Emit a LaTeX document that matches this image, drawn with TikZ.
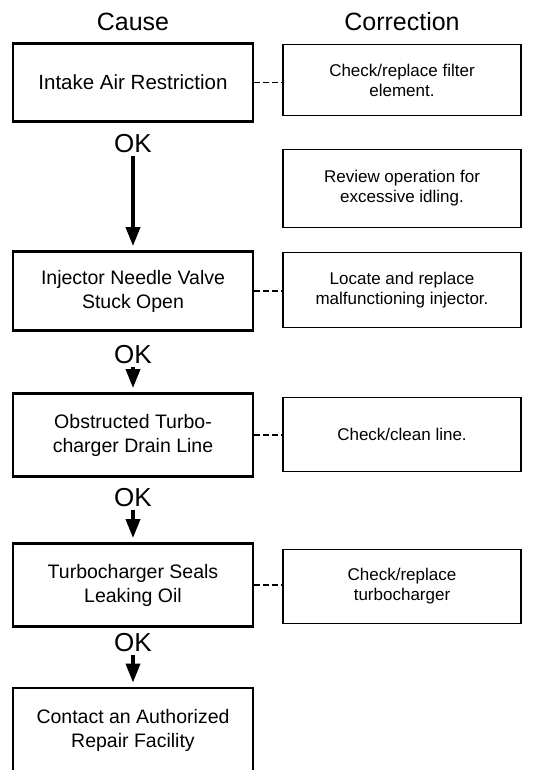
\documentclass[tikz,border=0pt]{standalone}
\usepackage{fontspec}
\setmainfont{Liberation Sans}
\usetikzlibrary{arrows.meta}
\begin{document}
\begin{tikzpicture}[x=1pt,y=-1pt,
  causebox/.style={draw, line width=2.8pt, minimum width=240pt, align=center, inner sep=0pt,
    font=\fontsize{19.5}{24}\selectfont},
  fixbox/.style={draw, line width=1.7pt, minimum width=237.5pt, align=center, inner sep=0pt,
    font=\fontsize{17}{20}\selectfont},
  headlabel/.style={font=\fontsize{25}{29}\selectfont, inner sep=0pt},
  oklabel/.style={font=\fontsize{26}{30}\selectfont, inner sep=0pt},
  flow/.style={-{Triangle[width=14pt,length=19pt]}, line width=3.6pt, shorten <=3pt, shorten >=4pt},
  link/.style={line width=1.8pt, dash pattern=on 6pt off 3pt}]
\useasboundingbox (0,0) rectangle (553,770);
\clip (0,0) rectangle (553,770);
% headings
\node[headlabel] (hc) at (133,22) {Cause};
\node[headlabel] (hr) at (402,22) {Correction};
% cause boxes
\node[causebox, minimum height=78pt, font=\fontsize{20.5}{24}\selectfont] (b1) at (133,82.5) {Intake Air Restriction};
\node[causebox, minimum height=79pt] (b2) at (133,291) {Injector Needle Valve\\Stuck Open};
\node[causebox, minimum height=83pt] (b3) at (133,435) {Obstructed Turbo-\\charger Drain Line};
\node[causebox, minimum height=83pt] (b4) at (133,585) {Turbocharger Seals\\Leaking Oil};
\node[causebox, minimum height=84pt] (b5) at (133,730) {Contact an Authorized\\Repair Facility};
% correction boxes
\node[fixbox, minimum height=71pt] (r1) at (402,80) {Check/replace filter\\element.};
\node[fixbox, minimum height=78pt] (r2) at (402,188.5) {Review operation for\\excessive idling.};
\node[fixbox, minimum height=75pt] (r3) at (402,290) {Locate and replace\\malfunctioning injector.};
\node[fixbox, minimum height=74pt] (r4) at (402,434.5) {Check/clean line.};
\node[fixbox, minimum height=74pt] (r5) at (402,586.5) {Check/replace\\turbocharger};
% OK labels
\node[oklabel] (ok1) at (133,143.5) {OK};
\node[oklabel] (ok2) at (133,355) {OK};
\node[oklabel] (ok3) at (133,498) {OK};
\node[oklabel] (ok4) at (133,643) {OK};
% arrows
\draw[flow] (ok1) -- (b2);
\draw[flow] (ok2) -- (b3);
\draw[flow] (ok3) -- (b4);
\draw[flow] (ok4) -- (b5);
% dashed links
\draw[link] (b1.east) -- (b1.east -| r1.west);
\draw[link] (b2.east) -- (b2.east -| r3.west);
\draw[link] (b3.east) -- (b3.east -| r4.west);
\draw[link] (b4.east) -- (b4.east -| r5.west);
\end{tikzpicture}
\end{document}
